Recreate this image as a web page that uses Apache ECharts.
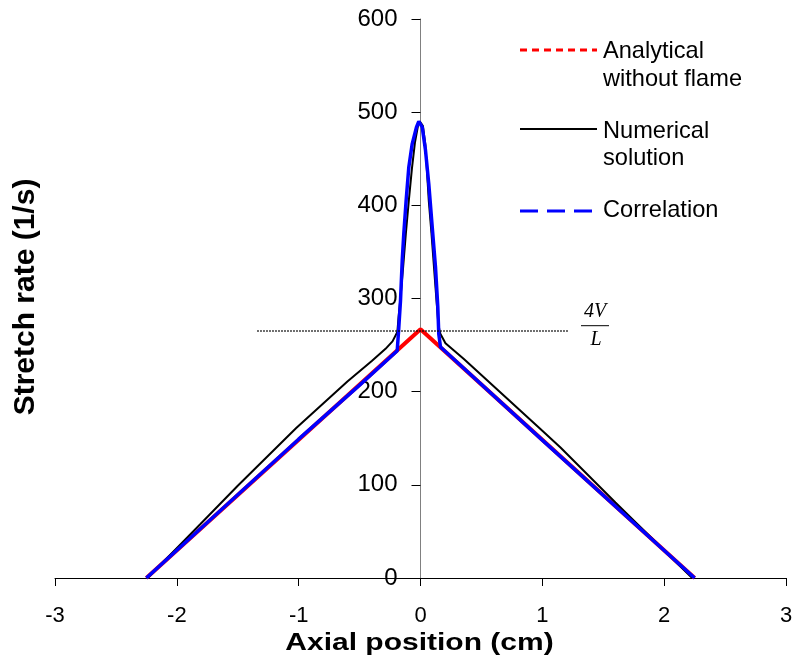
<!DOCTYPE html>
<html><head><meta charset="utf-8">
<script src="https://cdn.jsdelivr.net/npm/echarts@6/dist/echarts.min.js"></script>
<style>html,body{margin:0;padding:0;background:#fff}#c{width:793px;height:663px}</style>
</head><body><div id="c"></div>
<script>
// ---- data ----
const xTicks = [-3, -2, -1, 0, 1, 2, 3];
const yTicks = [0, 100, 200, 300, 400, 500, 600];

const analyticalX = [-2.25, 0, 2.25];
const analyticalY = [0, 267, 0];

const numericalX = [-2.24, -1.806, -1.5, -1.02, -0.6, -0.4, -0.287, -0.23, -0.19, -0.18, -0.165, -0.145, -0.12, -0.096, -0.07, -0.045, -0.02, -0.005,
                    0.02, 0.04, 0.068, 0.09, 0.11, 0.13, 0.145, 0.155, 0.164, 0.205, 0.356, 1.0, 1.149, 1.6, 2.23];
const numericalY = [0, 58, 99, 161, 211, 233, 246, 254, 264, 280, 300, 330, 370, 405, 440, 468, 486, 490,
                    485, 465, 405, 370, 335, 300, 275, 266, 262, 252, 235, 158, 140, 81, 0];

const correlationX = [-2.25, -1.0, -0.5, -0.191, -0.178, -0.164, -0.150, -0.137, -0.118, -0.096, -0.068, -0.033, -0.014,
                      0.014, 0.041, 0.068, 0.096, 0.123, 0.142, 0.150, 0.164, 1.0, 2.25];
const correlationY = [0, 149, 207, 244, 269, 298, 341, 370, 405, 441, 466, 484, 490,
                      484, 459, 423, 377, 334, 291, 262, 248, 148, 0];

const refLevel = 265;          // 4V/L
const refRange = [-1.34, 1.21];

const seriesNames = ['Analytical without flame', 'Numerical solution', 'Correlation'];

// ---- chart ----
const zip = (xs, ys) => xs.map((x, i) => [x, ys[i]]);
const el = document.getElementById('c');
const chart = echarts.init(el, null, {renderer: 'canvas'});
const FONT = '"Liberation Sans", Arial, sans-serif';
const GRID = {left: 55, right: 7, top: 19, bottom: 85};
// y axis sits at x = 0 of the x axis
const plotW = 793 - GRID.left - GRID.right;
const yAxisOffset = -plotW * (0 - xTicks[0]) / (xTicks[xTicks.length - 1] - xTicks[0]);
const LEG = '23.6px ' + FONT;

chart.setOption({
  animation: false,
  backgroundColor: '#fff',
  grid: Object.assign({containLabel: false, outerBoundsMode: 'none'}, GRID),
  xAxis: {
    type: 'value',
    min: xTicks[0], max: xTicks[xTicks.length - 1], interval: xTicks[1] - xTicks[0],
    axisLine: {show: true, onZero: false, lineStyle: {color: '#000', width: 1}},
    axisTick: {show: true, length: 8, lineStyle: {color: '#000', width: 1}},
    axisLabel: {color: '#000', fontSize: 22, fontFamily: FONT, margin: 27},
    splitLine: {show: false}
  },
  yAxis: {
    type: 'value', position: 'left', offset: yAxisOffset,
    min: yTicks[0], max: yTicks[yTicks.length - 1], interval: yTicks[1] - yTicks[0],
    axisLine: {show: true, onZero: false, lineStyle: {color: '#808080', width: 1}},
    axisTick: {show: true, length: 9, lineStyle: {color: '#000', width: 1}},
    axisLabel: {color: '#000', fontSize: 24, fontFamily: FONT, margin: 23},
    splitLine: {show: false}
  },
  series: [
    {
      name: seriesNames[0], type: 'line', data: zip(analyticalX, analyticalY),
      symbol: 'none', lineStyle: {color: '#ff0000', width: 4}, z: 2,
      markLine: {
        silent: true, symbol: 'none', label: {show: false},
        lineStyle: {color: '#000', width: 1.5, type: [1.5, 1.5]},
        data: [[{coord: [refRange[0], refLevel]}, {coord: [refRange[1], refLevel]}]]
      }
    },
    {
      name: seriesNames[1], type: 'line', data: zip(numericalX, numericalY),
      symbol: 'none', lineStyle: {color: '#000', width: 2}, z: 3
    },
    {
      name: seriesNames[2], type: 'line', data: zip(correlationX, correlationY),
      symbol: 'none', lineStyle: {color: '#0000ff', width: 3.5}, z: 4
    }
  ],
  graphic: [
    // axis titles
    {type: 'text', x: 419.5, y: 643.5, scaleY: 0.78, silent: true,
     style: {text: 'Axial position (cm)', font: 'bold 30px ' + FONT, fill: '#000', textAlign: 'center', textVerticalAlign: 'middle'}},
    {type: 'text', x: 26, y: 297, rotation: Math.PI / 2, silent: true,
     style: {text: 'Stretch rate (1/s)', font: 'bold 30px ' + FONT, fill: '#000', textAlign: 'center', textVerticalAlign: 'middle'}},
    // legend
    {type: 'line', silent: true, shape: {x1: 520, y1: 50, x2: 597, y2: 50}, style: {stroke: '#ff0000', lineWidth: 3, lineDash: [7, 5]}},
    {type: 'text', x: 603, y: 51.7, silent: true, style: {text: 'Analytical', font: LEG, fill: '#000', textAlign: 'left', textVerticalAlign: 'middle'}},
    {type: 'text', x: 603, y: 79, silent: true, style: {text: 'without flame', font: LEG, fill: '#000', textAlign: 'left', textVerticalAlign: 'middle'}},
    {type: 'line', silent: true, shape: {x1: 520, y1: 129, x2: 597, y2: 129}, style: {stroke: '#000', lineWidth: 2}},
    {type: 'text', x: 603, y: 131.7, silent: true, style: {text: 'Numerical', font: LEG, fill: '#000', textAlign: 'left', textVerticalAlign: 'middle'}},
    {type: 'text', x: 603, y: 158, silent: true, style: {text: 'solution', font: LEG, fill: '#000', textAlign: 'left', textVerticalAlign: 'middle'}},
    {type: 'line', silent: true, shape: {x1: 520, y1: 211, x2: 597, y2: 211}, style: {stroke: '#0000ff', lineWidth: 3, lineDash: [18, 9]}},
    {type: 'text', x: 603, y: 210.7, silent: true, style: {text: 'Correlation', font: LEG, fill: '#000', textAlign: 'left', textVerticalAlign: 'middle'}},
    // 4V/L annotation
    {type: 'text', x: 595, y: 311.5, silent: true, style: {text: '4V', font: 'italic 20px "Liberation Serif", "Times New Roman", serif', fill: '#000', textAlign: 'center', textVerticalAlign: 'middle'}},
    {type: 'line', silent: true, shape: {x1: 581, y1: 325.7, x2: 609, y2: 325.7}, style: {stroke: '#000', lineWidth: 1}},
    {type: 'text', x: 596, y: 340, silent: true, style: {text: 'L', font: 'italic 20px "Liberation Serif", "Times New Roman", serif', fill: '#000', textAlign: 'center', textVerticalAlign: 'middle'}}
  ]
});
</script>
</body></html>
